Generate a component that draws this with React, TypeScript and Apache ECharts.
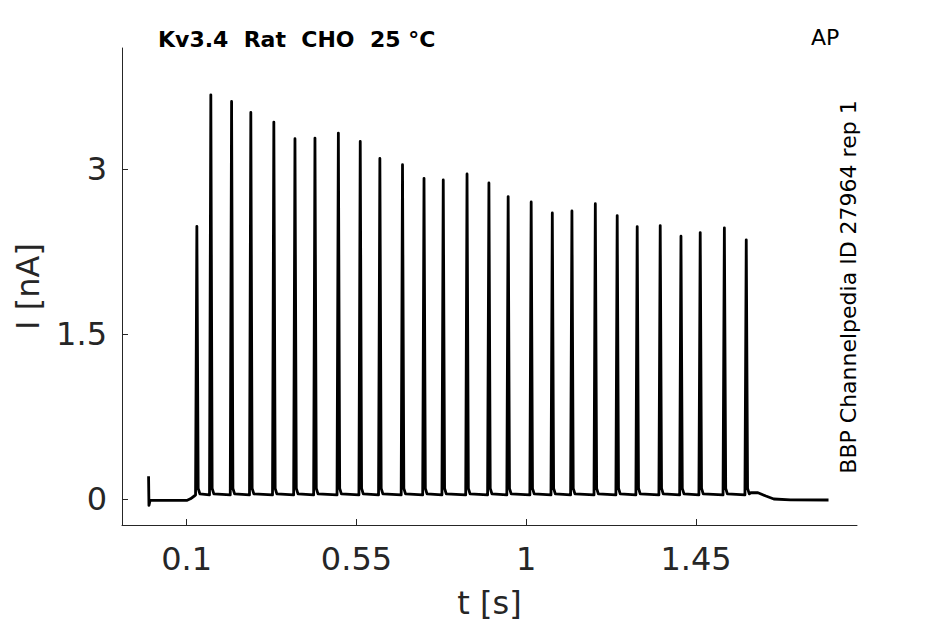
import React, { useEffect, useRef } from "react";
import * as echarts from "echarts";

// ---- data ----
const spikeTimes = [
  0.127, 0.164, 0.219, 0.27, 0.331, 0.387, 0.44, 0.502, 0.56, 0.612, 0.672, 0.729, 0.78, 0.843,
  0.901, 0.952, 1.013, 1.069, 1.121, 1.183, 1.241, 1.294, 1.355, 1.41, 1.461, 1.525, 1.583,
];
const spikePeaks = [
  2.48, 3.675, 3.614, 3.514, 3.427, 3.276, 3.282, 3.327, 3.251, 3.097, 3.04, 2.916, 2.901, 2.956,
  2.874, 2.75, 2.702, 2.602, 2.62, 2.686, 2.578, 2.478, 2.487, 2.39, 2.423, 2.466, 2.357,
];
// shape of one spike: time offsets (s) and levels (nA) around each peak
const spikeOffsets = [-0.0035, 0, 0.0035, 0.008];
const spikeLevels = [0.04, null, 0.1, 0.05];
// trace before the pulse train
const preTimes = [-0.001, 0.0, 0.003, 0.1, 0.11, 0.122];
const preValues = [0.21, -0.055, -0.01, -0.01, 0.005, 0.035];
// trace after the pulse train
const postTimes = [1.595, 1.614, 1.635, 1.656, 1.7, 1.801];
const postValues = [0.06, 0.06, 0.03, 0.003, -0.005, -0.006];

const xTicks = [0.1, 0.55, 1, 1.45];
const yTicks = [0, 1.5, 3];
const xRange = [-0.0714, 1.8765];
const yRange = [-0.233, 4.1];

const titleText = "Kv3.4  Rat  CHO  25 °C";
const cornerText = "AP";
const sideText = "BBP Channelpedia ID 27964 rep 1";

function buildTrace(): number[][] {
  const pts: number[][] = [];
  preTimes.forEach((t, i) => pts.push([t, preValues[i]]));
  spikeTimes.forEach((t, i) => {
    spikeOffsets.forEach((o, j) => {
      const lv = spikeLevels[j];
      pts.push([t + o, lv === null ? spikePeaks[i] : lv]);
    });
  });
  postTimes.forEach((t, i) => pts.push([t, postValues[i]]));
  return pts;
}

const FONT = "DejaVu Sans";
const AXIS_COLOR = "#262626";

export default function App() {
  const ref = useRef<HTMLDivElement>(null);
  useEffect(() => {
    if (!ref.current) return;
    const chart = echarts.init(ref.current, undefined, { renderer: "svg" });
    chart.setOption({
      animation: false,
      backgroundColor: "#ffffff",
      grid: { left: 122, right: 88, top: 48, bottom: 98, containLabel: false },
      xAxis: {
        type: "value",
        min: xRange[0],
        max: xRange[1],
        name: "t [s]",
        nameLocation: "middle",
        nameGap: 62,
        nameTextStyle: { fontFamily: FONT, fontSize: 32, color: AXIS_COLOR },
        axisLine: { show: true, onZero: false, lineStyle: { color: AXIS_COLOR, width: 1 } },
        axisTick: { show: true, inside: true, length: 6, customValues: xTicks, lineStyle: { color: AXIS_COLOR } },
        axisLabel: { customValues: xTicks, fontFamily: FONT, fontSize: 32, color: AXIS_COLOR, margin: 18 },
        splitLine: { show: false },
      },
      yAxis: {
        type: "value",
        min: yRange[0],
        max: yRange[1],
        name: "I [nA]",
        nameLocation: "middle",
        nameGap: 78,
        nameTextStyle: { fontFamily: FONT, fontSize: 32, color: AXIS_COLOR },
        axisLine: { show: true, onZero: false, lineStyle: { color: AXIS_COLOR, width: 1 } },
        axisTick: { show: true, inside: true, length: 6, customValues: yTicks, lineStyle: { color: AXIS_COLOR } },
        axisLabel: { customValues: yTicks, fontFamily: FONT, fontSize: 32, color: AXIS_COLOR, margin: 15 },
        splitLine: { show: false },
      },
      series: [
        {
          type: "line",
          data: buildTrace(),
          showSymbol: false,
          symbol: "none",
          lineStyle: { color: "#000000", width: 2.8, join: "round" },
          silent: true,
        },
      ],
      graphic: [
        {
          type: "text",
          x: 158,
          y: 39,
          style: { text: titleText, font: `bold 22px "${FONT}"`, fill: "#000000", align: "left", verticalAlign: "middle" },
        },
        {
          type: "text",
          x: 811,
          y: 37,
          style: { text: cornerText, font: `22px "${FONT}"`, fill: "#000000", align: "left", verticalAlign: "middle" },
        },
        {
          type: "text",
          x: 848,
          y: 287,
          rotation: Math.PI / 2,
          style: { text: sideText, font: `22px "${FONT}"`, fill: "#000000", align: "center", verticalAlign: "middle" },
        },
      ],
    });
    return () => chart.dispose();
  }, []);
  return <div ref={ref} style={{ position: "fixed", left: 0, top: 0, width: 945, height: 624 }} />;
}
